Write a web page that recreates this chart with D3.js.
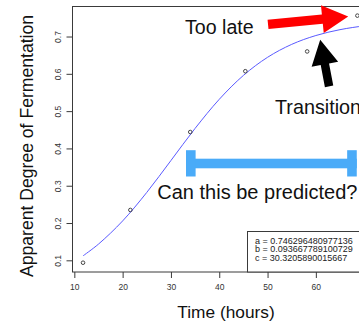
<!DOCTYPE html>
<html>
<head>
<meta charset="utf-8">
<script src="https://cdn.jsdelivr.net/npm/d3@7"></script>
<style>
  html, body { margin: 0; padding: 0; background: #fff; }
  svg { display: block; font-family: "Liberation Sans", Arial, sans-serif; }
</style>
</head>
<body>
<div id="chart"></div>
<script>
// observed samples
const hours = [11.8, 21.6, 34.0, 45.4, 58.2, 68.6];
const adf = [0.0936, 0.235, 0.444, 0.607, 0.660, 0.756];

// fitted curve
const fitHours = [11.8, 15, 20, 25, 30, 35, 40, 45, 50, 55, 60, 65, 70, 72];
const fitAdf = [0.112, 0.1435, 0.2056, 0.2821, 0.3676, 0.4537, 0.5316, 0.5957, 0.6443, 0.679, 0.7027, 0.7184, 0.7286, 0.7315];

const xTicks = [10, 20, 30, 40, 50, 60, 70];
const yTicks = [0.1, 0.2, 0.3, 0.4, 0.5, 0.6, 0.7];
const legendLines = ['a = 0.746296480977136', 'b = 0.093667789100729', 'c = 30.3205890015667'];

const W = 359, H = 323;
const plot = { left: 72.5, top: 6.5, right: 368.5, bottom: 272 };

const svg = d3.select('#chart').append('svg').attr('width', W).attr('height', H);

const x = d3.scaleLinear().domain([9.62, 70.9]).range([plot.left, plot.right]);
const y = d3.scaleLinear().domain([0.0687, 0.7805]).range([plot.bottom, plot.top]);

const axisColor = '#3a3a3a';

// x axis
const gx = svg.append('g').attr('transform', `translate(0,${plot.bottom})`)
  .call(d3.axisBottom(x).tickValues(xTicks).tickSize(6).tickPadding(6).tickFormat(d3.format('d')));
gx.select('.domain').remove();
gx.selectAll('line').attr('stroke', axisColor);
gx.selectAll('text').attr('font-size', 8.5).attr('fill', '#333').attr('font-family', '"Liberation Sans", Arial, sans-serif');

// y axis, labels rotated like base R
const gy = svg.append('g').attr('transform', `translate(${plot.left},0)`)
  .call(d3.axisLeft(y).tickValues(yTicks).tickSize(6).tickFormat(d3.format('.1f')));
gy.select('.domain').remove();
gy.selectAll('line').attr('stroke', axisColor);
gy.selectAll('text')
  .attr('font-size', 8.5).attr('fill', '#333').attr('font-family', '"Liberation Sans", Arial, sans-serif')
  .attr('x', null).attr('dy', null)
  .attr('text-anchor', 'middle')
  .attr('transform', 'translate(-12,0) rotate(-90)')
  .attr('dy', '0em');

// fitted curve
svg.append('path')
  .datum(fitHours.map((t, i) => [t, fitAdf[i]]))
  .attr('fill', 'none').attr('stroke', '#5a5aff').attr('stroke-width', 1)
  .attr('d', d3.line().x(d => x(d[0])).y(d => y(d[1])).curve(d3.curveCatmullRom));

// sample points
svg.selectAll('circle.pt').data(hours.map((t, i) => [t, adf[i]])).join('circle')
  .attr('class', 'pt')
  .attr('cx', d => x(d[0])).attr('cy', d => y(d[1])).attr('r', 1.8)
  .attr('fill', 'none').attr('stroke', '#333').attr('stroke-width', 0.9);

// plot box
svg.append('rect')
  .attr('x', plot.left).attr('y', plot.top)
  .attr('width', plot.right - plot.left).attr('height', plot.bottom - plot.top)
  .attr('fill', 'none').attr('stroke', axisColor).attr('stroke-width', 1);

// legend box (bottom right)
const lg = svg.append('g');
lg.append('rect').attr('x', 247.5).attr('y', 231.5).attr('width', 140).attr('height', plot.bottom - 231.5)
  .attr('fill', '#fff').attr('stroke', axisColor);
lg.selectAll('text').data(legendLines).join('text')
  .attr('x', 255).attr('y', (d, i) => 243.5 + i * 8.6)
  .attr('font-size', 9).attr('fill', '#222').text(d => d);

// axis titles
svg.append('text').attr('x', 226).attr('y', 318).attr('text-anchor', 'middle')
  .attr('font-size', 17.3).attr('fill', '#111').text('Time (hours)');
svg.append('text').attr('transform', 'translate(33,146) rotate(-90)').attr('text-anchor', 'middle')
  .attr('font-size', 17.6).attr('fill', '#111').text('Apparent Degree of Fermentation');

// block arrow polygon from tail to tip
function arrow(x1, y1, x2, y2, shaftW, headW, headL) {
  const dx = x2 - x1, dy = y2 - y1, len = Math.hypot(dx, dy);
  const ux = dx / len, uy = dy / len, nx = -uy, ny = ux;
  const bx = x2 - ux * headL, by = y2 - uy * headL;
  const p = (px, py, o) => [px + nx * o, py + ny * o];
  return [
    p(x1, y1, shaftW / 2), p(bx, by, shaftW / 2), p(bx, by, headW / 2),
    [x2, y2],
    p(bx, by, -headW / 2), p(bx, by, -shaftW / 2), p(x1, y1, -shaftW / 2)
  ].map(d => d.join(',')).join(' ');
}

// "Too late" red arrow
svg.append('polygon').attr('points', arrow(x(50.1), y(0.7323), x(66.7), y(0.7537), 9.3, 28, 26)).attr('fill', '#ff0000');
// "Transition" black arrow
svg.append('polygon').attr('points', arrow(x(62.74), y(0.5664), x(60.9), y(0.6914), 8.5, 27, 25)).attr('fill', '#000');

// blue bracket
const bY = y(0.3596), bx1 = x(33.12), bx2 = x(68.47);
svg.append('rect').attr('x', bx1).attr('y', bY - 4.8).attr('width', bx2 - bx1).attr('height', 9.6).attr('fill', '#4aabf8');
svg.append('rect').attr('x', bx1).attr('y', bY - 13.3).attr('width', 9.6).attr('height', 26.3).attr('fill', '#4aabf8');
svg.append('rect').attr('x', bx2 - 9.6).attr('y', bY - 13.3).attr('width', 9.6).attr('height', 26.3).attr('fill', '#4aabf8');

// annotation texts
svg.append('text').attr('x', 185).attr('y', 34).attr('font-size', 19.6).attr('fill', '#111').text('Too late');
svg.append('text').attr('x', 275).attr('y', 113.5).attr('font-size', 19.8).attr('fill', '#111').text('Transition');
svg.append('text').attr('x', 157.3).attr('y', 199).attr('font-size', 20).attr('fill', '#111').text('Can this be predicted?');
</script>
</body>
</html>
